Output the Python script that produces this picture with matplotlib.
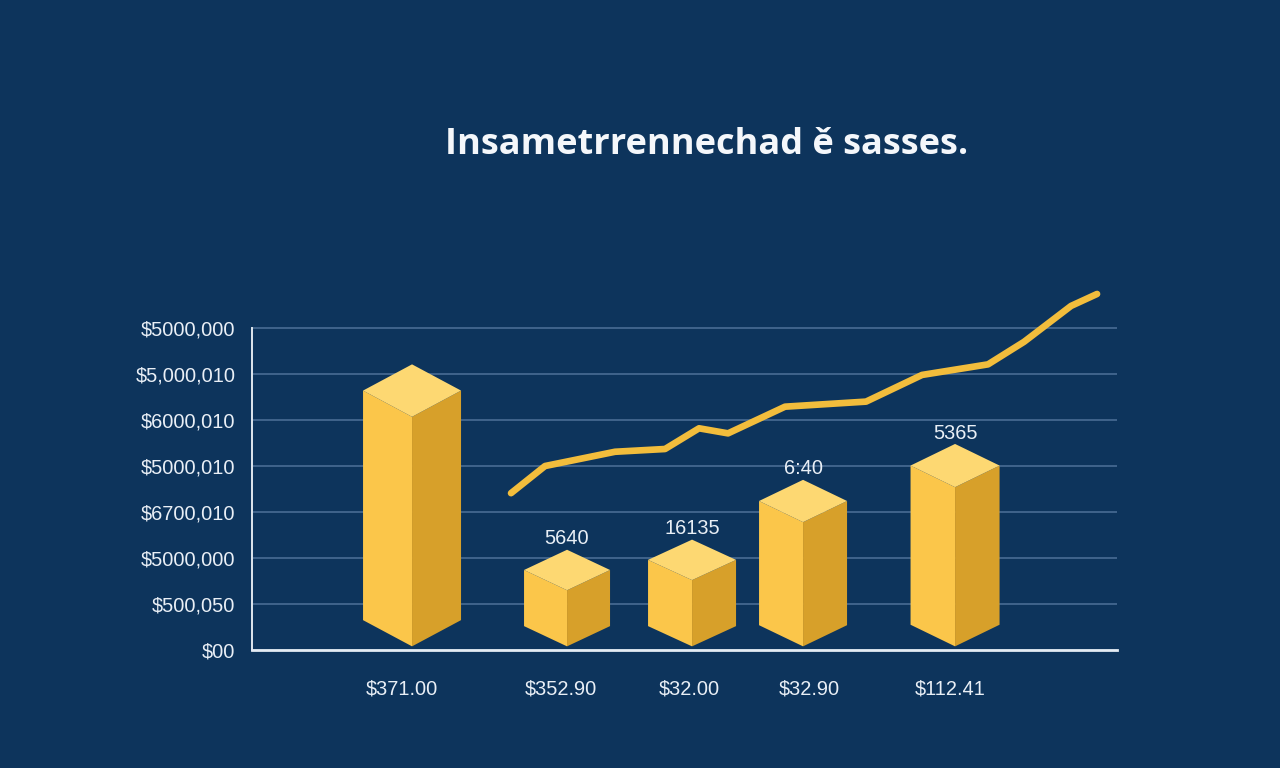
import matplotlib
matplotlib.use("Agg")
import matplotlib.pyplot as plt
from matplotlib.patches import Polygon

# ---------------- data ----------------
title = "Insametrrennechad ě sasses."
categories = ["$371.00", "$352.90", "$32.00", "$32.90", "$112.41"]
bar_values = [5.07, 1.30, 1.52, 2.78, 3.54]
bar_labels = ["", "5640", "16135", "6:40", "5365"]
y_tick_values = [0, 1, 2, 3, 4, 5, 6, 7]
y_tick_labels = ["$00", "$500,050", "$5000,000", "$6700,010",
                 "$5000,010", "$6000,010", "$5,000,010", "$5000,000"]
line_x = [2.59, 2.93, 3.63, 4.13, 4.47, 4.76, 5.33, 6.14, 6.70, 7.36, 7.72, 8.19, 8.45]
line_y = [3.41, 4.00, 4.31, 4.37, 4.82, 4.71, 5.29, 5.40, 5.98, 6.21, 6.70, 7.48, 7.74]

# ---------------- layout / style ----------------
bar_pos = [1.60, 3.15, 4.40, 5.51, 7.03]
label_pos = [1.50, 3.09, 4.37, 5.57, 6.98]
bar_half_w = [0.49, 0.43, 0.44, 0.44, 0.445]
bar_dh = [0.57, 0.44, 0.44, 0.46, 0.47]
bar_base = 0.08

BG = "#0d345c"
GRID = "#44688f"
TXT = "#e9eff6"
FACE_L = "#fbc64a"
FACE_R = "#d7a02a"
FACE_T = "#fdd872"
LINE = "#f2bd3c"

fig = plt.figure(figsize=(12.8, 7.68), dpi=100, facecolor=BG)
ax = fig.add_axes([0.1969, 0.1536, 0.6758, 0.4792])
ax.set_facecolor(BG)
ax.set_xlim(0, 8.65)
ax.set_ylim(0, 8)

for s in ("top", "right"):
    ax.spines[s].set_visible(False)
ax.spines["bottom"].set_color("#e4ebf3")
ax.spines["bottom"].set_linewidth(2.0)
ax.spines["left"].set_color("#dfe6ee")
ax.spines["left"].set_linewidth(1.4)
ax.spines["left"].set_bounds(0, 7)

ax.set_yticks(y_tick_values)
ax.set_yticklabels(y_tick_labels, fontsize=14.4, color=TXT, family="Liberation Sans")
ax.yaxis.grid(True, color=GRID, linewidth=1.3)
ax.set_axisbelow(True)
ax.set_xticks(label_pos)
ax.set_xticklabels(categories, fontsize=14.4, color=TXT, family="Liberation Sans")
ax.tick_params(axis="y", length=0, pad=12)
ax.tick_params(axis="x", length=0, pad=21)

# trend line
ax.plot(line_x, line_y, color=LINE, linewidth=4.8, solid_capstyle="round",
        solid_joinstyle="round", zorder=3)

# isometric bars
for xc, v, hw, dh, lab in zip(bar_pos, bar_values, bar_half_w, bar_dh, bar_labels):
    b = bar_base
    left = Polygon([(xc, b), (xc - hw, b + dh), (xc - hw, v + dh), (xc, v)],
                   closed=True, facecolor=FACE_L, edgecolor="none", zorder=4)
    right = Polygon([(xc, b), (xc + hw, b + dh), (xc + hw, v + dh), (xc, v)],
                    closed=True, facecolor=FACE_R, edgecolor="none", zorder=4)
    top = Polygon([(xc, v), (xc - hw, v + dh), (xc, v + 2 * dh), (xc + hw, v + dh)],
                  closed=True, facecolor=FACE_T, edgecolor="none", zorder=5)
    for p in (left, right, top):
        ax.add_patch(p)
    if lab:
        ax.annotate(lab, (xc, v + 2 * dh), xytext=(0, 1), textcoords="offset points",
                    ha="center", va="bottom", fontsize=14.4, color=TXT,
                    family="Liberation Sans", zorder=6)

fig.text(0.552, 1 - 145 / 768, title, ha="center", va="center",
         fontsize=26, fontweight="bold", color="#f4f7fb", family="Open Sans")

fig.savefig("out.png", dpi=100, facecolor=BG)
